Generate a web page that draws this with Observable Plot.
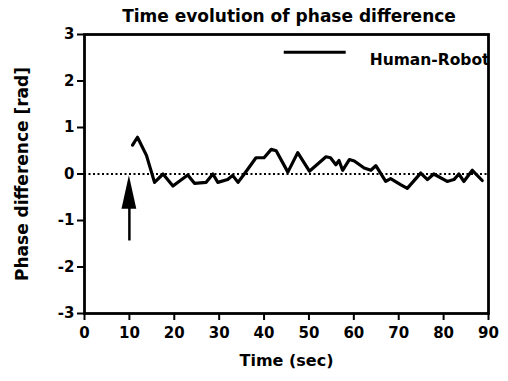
<!DOCTYPE html>
<html>
<head>
<meta charset="utf-8">
<script src="https://cdn.jsdelivr.net/npm/d3@7"></script>
<script src="https://cdn.jsdelivr.net/npm/@observablehq/plot@0.6"></script>
<style>
  html, body { margin: 0; padding: 0; background: #fff; }
  body { width: 508px; height: 381px; overflow: hidden; font-family: "DejaVu Sans", sans-serif; }
  #title { height: 26px; font-size: 17px; font-weight: bold; position: relative; }
  #title span { position: absolute; left: 289px; transform: translateX(-50%); top: 8px; white-space: nowrap; line-height: 17px; }
</style>
</head>
<body>
<div id="title"><span id="titleText"></span></div>
<div id="chart"></div>
<script>
const titleText = "Time evolution of phase difference";
const seriesName = "Human-Robot";
const xLabel = "Time (sec)";
const yLabel = "Phase difference [rad]";
const xTicks = [0, 10, 20, 30, 40, 50, 60, 70, 80, 90];
const yTicks = [-3, -2, -1, 0, 1, 2, 3];

const time = [10.7, 11.8, 13.8, 15.6, 17.5, 19.7, 23, 24.5, 27.1, 28.6, 29.7, 31.9, 33, 34.2, 35.6, 38.2, 40, 41.6, 42.7, 45.3, 47.5, 50.1, 53.8, 54.8, 56, 56.7, 57.5, 59, 60.1, 62.3, 63.8, 64.9, 67.1, 68.2, 70.4, 71.9, 74.9, 76.4, 77.8, 80.8, 82.3, 83.4, 84.5, 86.4, 88.6];
const phase = [0.62, 0.79, 0.40, -0.18, 0.0, -0.26, -0.02, -0.2, -0.18, 0.0, -0.18, -0.12, -0.03, -0.18, 0.0, 0.35, 0.35, 0.53, 0.5, 0.04, 0.46, 0.06, 0.37, 0.35, 0.2, 0.29, 0.08, 0.31, 0.28, 0.13, 0.08, 0.18, -0.16, -0.1, -0.23, -0.31, 0.02, -0.12, 0.0, -0.16, -0.12, 0.0, -0.16, 0.08, -0.14];

// annotation: arrow marking the start at t = 10
const arrowShaft = [{x: 10, y1: -1.44, y2: -0.7}];
const arrowHead = [{y: -0.76, x1: 8.35, x2: 11.65}, {y: -0.04, x1: 10, x2: 10}];
// legend sample line
const legendLine = [{x1: 44.5, x2: 58.3, y: 2.62}];

document.getElementById("titleText").textContent = titleText;
const data = time.map((t, i) => ({t, v: phase[i]}));
const font = "'DejaVu Sans', sans-serif";

const plot = Plot.plot({
  width: 508,
  height: 355,
  marginTop: 8,
  marginBottom: 68,
  marginLeft: 84,
  marginRight: 20,
  style: {fontFamily: font, fontWeight: "bold", fontSize: "15px", color: "#000", background: "#fff", overflow: "visible"},
  x: {domain: [0, 90]},
  y: {domain: [-3, 3]},
  marks: [
    Plot.axisX({ticks: xTicks, tickFormat: d => String(d), tickSize: 7, tickPadding: 7, strokeWidth: 2, fontSize: 15, label: null}),
    Plot.axisY({ticks: yTicks, tickFormat: d => String(d), tickSize: 7, tickPadding: 3, strokeWidth: 2, fontSize: 15, label: null}),
    Plot.ruleY([0], {stroke: "#000", strokeWidth: 2, strokeDasharray: "2,2.5"}),
    Plot.line(data, {x: "t", y: "v", stroke: "#000", strokeWidth: 3.2, strokeLinejoin: "round"}),
    Plot.ruleX(arrowShaft, {x: "x", y1: "y1", y2: "y2", stroke: "#000", strokeWidth: 2.5}),
    Plot.areaX(arrowHead, {y: "y", x1: "x1", x2: "x2", fill: "#000"}),
    Plot.ruleY(legendLine, {y: "y", x1: "x1", x2: "x2", stroke: "#000", strokeWidth: 3}),
    Plot.text([seriesName], {frameAnchor: "top-right", dx: 1, dy: 19, textAnchor: "end", fontSize: 15.5, fontWeight: "bold", clip: "frame"}),
    Plot.frame({stroke: "#000", strokeWidth: 2.8}),
    Plot.text([xLabel], {frameAnchor: "bottom", dy: 52, fontSize: 16, fontWeight: "bold"}),
    Plot.text([yLabel], {frameAnchor: "left", dx: -62, rotate: -90, textAnchor: "middle", fontSize: 17, fontWeight: "bold"})
  ]
});
document.getElementById("chart").appendChild(plot);
</script>
</body>
</html>
